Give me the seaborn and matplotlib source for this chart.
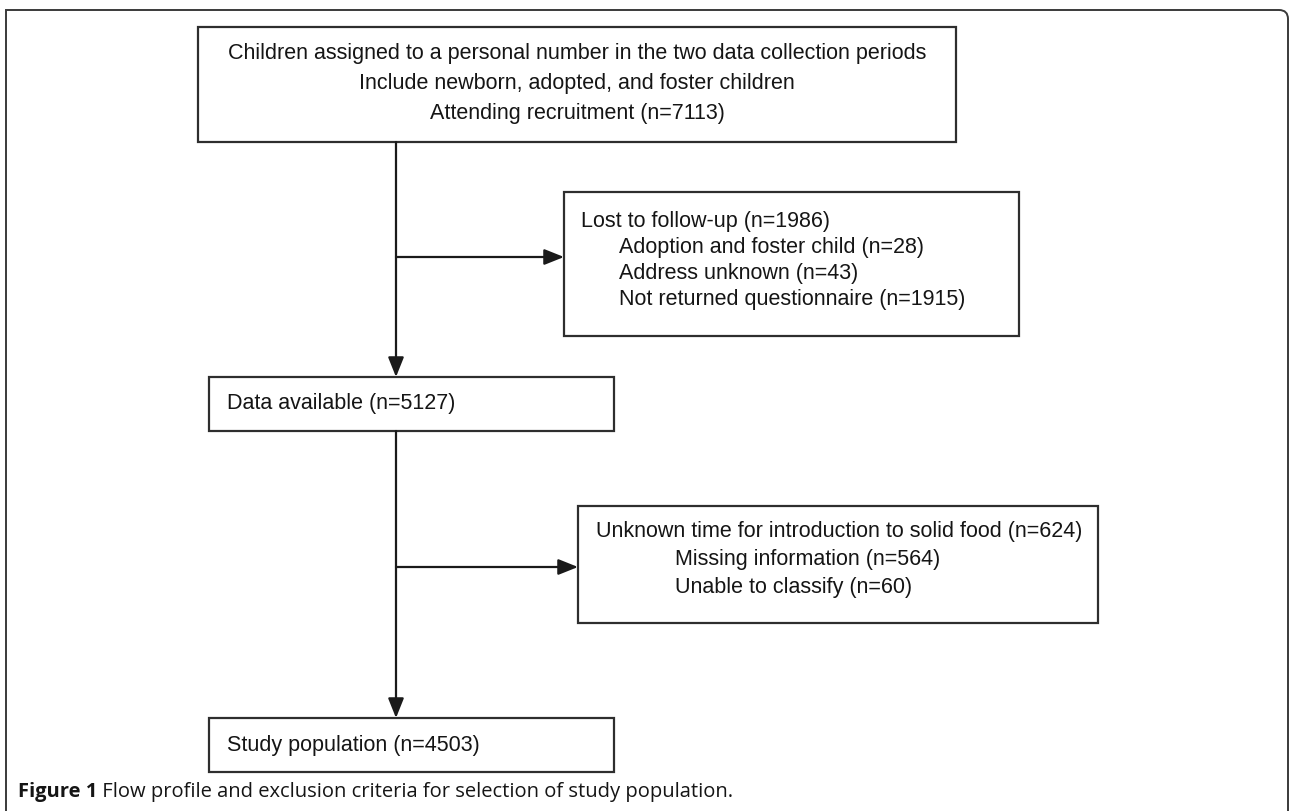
import matplotlib
matplotlib.use("Agg")
import matplotlib.pyplot as plt
from matplotlib import font_manager
from matplotlib.path import Path
from matplotlib.patches import Rectangle, PathPatch, FancyArrowPatch
import seaborn as sns

# ---- data ----
intro_lines = ["Children assigned to a personal number in the two data collection periods",
               "Include newborn, adopted, and foster children"]
stage_names = ["Attending recruitment", "Data available", "Study population"]
stage_counts = [7113, 5127, 4503]
excl_titles = ["Lost to follow-up", "Unknown time for introduction to solid food"]
excl_totals = [1986, 624]
excl_reasons = [["Adoption and foster child", "Address unknown", "Not returned questionnaire"],
                ["Missing information", "Unable to classify"]]
excl_counts = [[28, 43, 1915], [564, 60]]
caption_bold = "Figure 1"
caption_text = "Flow profile and exclusion criteria for selection of study population."


def pick_font(names):
    for n in names:
        try:
            font_manager.findfont(n, fallback_to_default=False)
            return n
        except Exception:
            pass
    return "DejaVu Sans"


sns.set_style("white")
box_font = pick_font(["Liberation Sans Narrow", "Liberation Sans", "Arial"])
cap_font = pick_font(["Open Sans", "Lato", "DejaVu Sans"])
plt.rcParams["font.family"] = [box_font, "DejaVu Sans"]

W, H = 1290, 811
fig = plt.figure(figsize=(W / 100, H / 100), dpi=100)
ax = fig.add_axes([0, 0, 1, 1])
ax.set_xlim(0, W)
ax.set_ylim(H, 0)
ax.axis("off")

edge = "#2e2e2e"
ink = "#151515"
fs = 15.5

# outer frame: square top-left, rounded top-right, open at the bottom
fx0, fy0, fx1, r = 6, 10, 1288, 9
frame_path = Path([(fx0, H + 20), (fx0, fy0), (fx1 - r, fy0), (fx1, fy0), (fx1, fy0 + r), (fx1, H + 20)],
                  [Path.MOVETO, Path.LINETO, Path.LINETO, Path.CURVE3, Path.CURVE3, Path.LINETO])
ax.add_patch(PathPatch(frame_path, fill=False, ec="#3a3a3a", lw=1.4, clip_on=False))


def box(x0, y0, x1, y1):
    ax.add_patch(Rectangle((x0, y0), x1 - x0, y1 - y0, fill=False, ec=edge, lw=1.6))


def arrow(p0, p1):
    ax.add_patch(FancyArrowPatch(p0, p1, arrowstyle="-|>,head_length=0.75,head_width=0.3",
                                 mutation_scale=16, color="#1a1a1a", lw=1.6,
                                 shrinkA=0, shrinkB=0))


# box geometry (pixels)
top = (198, 27, 956, 142)
mid = (209, 377, 614, 431)
bot = (209, 718, 614, 772)
side1 = (564, 192, 1019, 336)
side2 = (578, 506, 1098, 623)
for b in (top, mid, bot, side1, side2):
    box(*b)

xc = 396
cx = (top[0] + top[2]) / 2
top_lines = intro_lines + [f"{stage_names[0]} (n={stage_counts[0]})"]
for i, s in enumerate(top_lines):
    ax.text(cx, 53 + i * 30, s, ha="center", va="center", fontsize=fs, color=ink)

ax.text(mid[0] + 18, (mid[1] + mid[3]) / 2, f"{stage_names[1]} (n={stage_counts[1]})",
        ha="left", va="center", fontsize=fs, color=ink)
ax.text(bot[0] + 18, (bot[1] + bot[3]) / 2, f"{stage_names[2]} (n={stage_counts[2]})",
        ha="left", va="center", fontsize=fs, color=ink)

# side boxes: (box, title inset, reason inset, first line y, line step)
sides = [(side1, 17, 55, 222, 26), (side2, 18, 97, 531, 28)]
for k, (b, pad, indent, y0, step) in enumerate(sides):
    ax.text(b[0] + pad, y0, f"{excl_titles[k]} (n={excl_totals[k]})",
            ha="left", va="center", fontsize=fs, color=ink)
    for j, (rsn, c) in enumerate(zip(excl_reasons[k], excl_counts[k])):
        ax.text(b[0] + indent, y0 + step * (j + 1), f"{rsn} (n={c})",
                ha="left", va="center", fontsize=fs, color=ink)

# connectors
arrow((xc, top[3]), (xc, mid[1]))
arrow((xc, mid[3]), (xc, bot[1]))
arrow((xc, 257), (side1[0], 257))
arrow((xc, 567), (side2[0], 567))

# caption
t1 = ax.text(18, 802, caption_bold, ha="left", va="bottom", fontsize=14.5,
             fontweight="bold", family=[cap_font, "DejaVu Sans"], color=ink)
ax.annotate(" " + caption_text, xy=(1, 0), xycoords=t1, ha="left", va="bottom",
            fontsize=14.5, family=[cap_font, "DejaVu Sans"], color=ink)

fig.savefig("out.png", dpi=100)
